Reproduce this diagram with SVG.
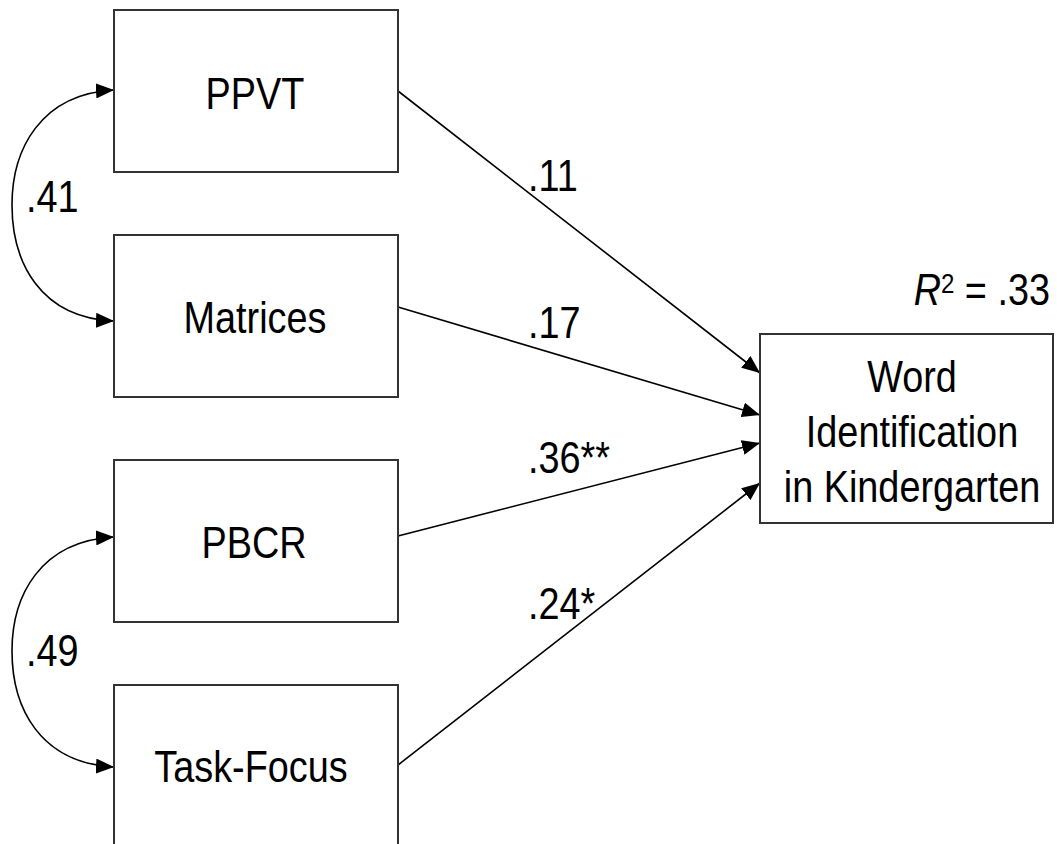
<svg xmlns="http://www.w3.org/2000/svg" width="1057" height="844" viewBox="0 0 1057 844">
  <style>
    .box { fill: #ffffff; stroke: #333333; stroke-width: 2; }
    .lbl { font-family: "Liberation Sans", Arial, sans-serif; font-size: 44px; fill: #000000; }
    .mid { text-anchor: middle; }
    .end { text-anchor: end; }
    .edge { fill: none; stroke: #000000; stroke-width: 1.6; }
  </style>
  <defs>
    <marker id="head" markerUnits="userSpaceOnUse" markerWidth="18" markerHeight="15" viewBox="0 0 18 15" refX="18" refY="7.5" orient="auto-start-reverse">
      <path d="M0,0 L18,7.5 L0,15 z" fill="#000000"/>
    </marker>
  </defs>
  <rect width="1057" height="844" fill="#ffffff"/>

  <!-- connectors -->
  <g id="connectors">
    <path class="edge" d="M398,91 L760,373" marker-end="url(#head)"/>
    <path class="edge" d="M398,307 L760,415" marker-end="url(#head)"/>
    <path class="edge" d="M398,536 L760,443" marker-end="url(#head)"/>
    <path class="edge" d="M398,765 L760,483" marker-end="url(#head)"/>
    <path class="edge" d="M114,90 C40,94 12,150 12,205 C12,262 40,318 114,321" marker-start="url(#head)" marker-end="url(#head)"/>
    <path class="edge" d="M114,537 C40,541 12,596 12,651 C12,708 40,763 114,767" marker-start="url(#head)" marker-end="url(#head)"/>
  </g>

  <!-- path coefficients -->
  <g id="coefficients">
    <text class="lbl" transform="translate(26,212) scale(0.86,1)">.41</text>
    <text class="lbl" transform="translate(26,666) scale(0.86,1)">.49</text>
    <text class="lbl" transform="translate(528,191) scale(0.86,1)">.11</text>
    <text class="lbl" transform="translate(528,338) scale(0.86,1)">.17</text>
    <text class="lbl" transform="translate(528,473) scale(0.86,1)">.36**</text>
    <text class="lbl" transform="translate(528,619) scale(0.86,1)">.24*</text>
    <text class="lbl end" transform="translate(1050,305) scale(0.86,1)"><tspan font-style="italic">R</tspan><tspan font-size="28" dy="-12">2</tspan><tspan dy="12" dx="12">= .33</tspan></text>
  </g>

  <g id="ppvt">
    <rect class="box" x="114" y="10" width="284" height="162"/>
    <text class="lbl mid" transform="translate(255,109) scale(0.86,1)">PPVT</text>
  </g>
  <g id="matrices">
    <rect class="box" x="114" y="235" width="284" height="162"/>
    <text class="lbl mid" transform="translate(255,333) scale(0.86,1)">Matrices</text>
  </g>
  <g id="pbcr">
    <rect class="box" x="114" y="460" width="284" height="162"/>
    <text class="lbl mid" transform="translate(254,558) scale(0.86,1)">PBCR</text>
  </g>
  <g id="task-focus">
    <rect class="box" x="114" y="685" width="284" height="170"/>
    <text class="lbl mid" transform="translate(251,782) scale(0.86,1)">Task-Focus</text>
  </g>
  <g id="word-identification">
    <rect class="box" x="760" y="334" width="293" height="189"/>
    <text class="lbl mid" transform="translate(912,392) scale(0.86,1)">Word</text>
    <text class="lbl mid" transform="translate(912,447) scale(0.86,1)">Identification</text>
    <text class="lbl mid" transform="translate(912,502) scale(0.86,1)">in Kindergarten</text>
  </g>
</svg>
